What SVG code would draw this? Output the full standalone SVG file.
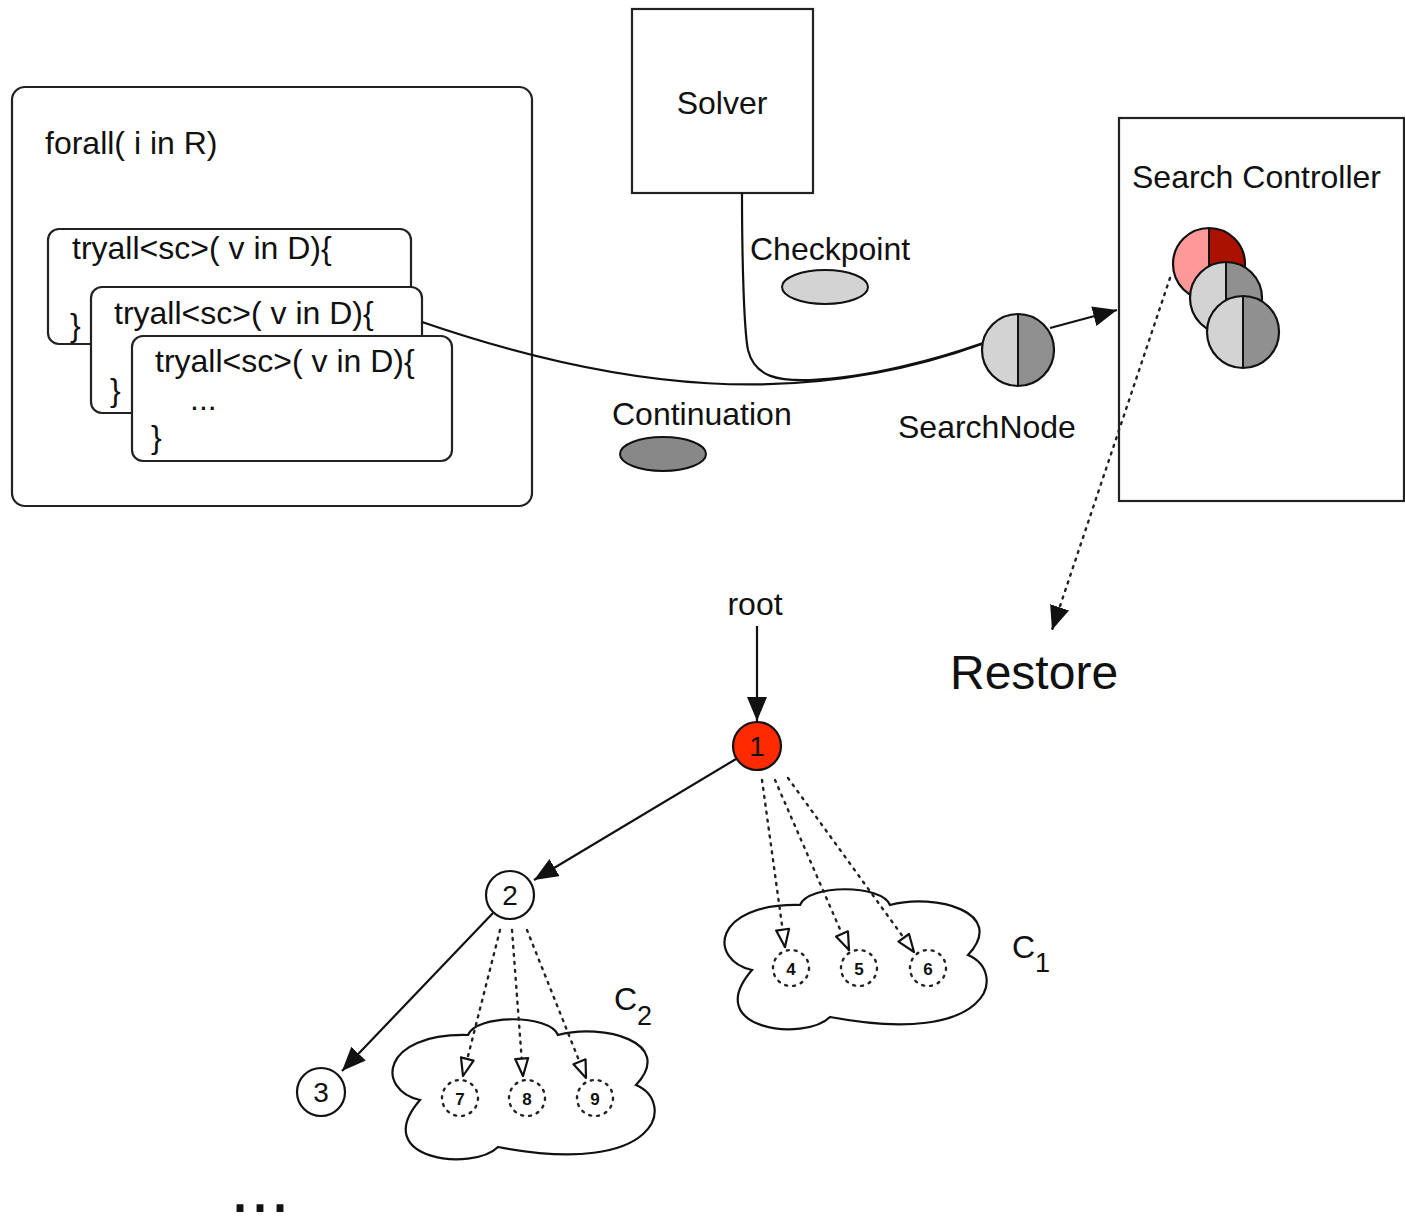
<svg xmlns="http://www.w3.org/2000/svg" width="1405" height="1225" viewBox="0 0 1405 1225">
<style>
  text { font-family: "Liberation Sans", Arial, sans-serif; fill: #111; }
  .lbl { font-size: 32px; }
  .box { fill: #fff; stroke: #222; stroke-width: 2.2; }
  .edge { fill: none; stroke: #111; stroke-width: 2.2; }
  .dot { fill: none; stroke: #222; stroke-width: 2.4; stroke-dasharray: 2 6; stroke-linecap: round; }
  .num { font-size: 28px; text-anchor: middle; }
  .snum { font-size: 17px; font-weight: bold; text-anchor: middle; }
  .light { fill: #d3d3d3; }
  .dark { fill: #909090; }
  .ring { fill: none; stroke: #111; stroke-width: 2.2; }
</style>
<defs>
  <marker id="arr" markerUnits="userSpaceOnUse" viewBox="0 0 24 20" refX="24" refY="10" markerWidth="24" markerHeight="20" orient="auto">
    <path d="M0,0 L24,10 L0,20 Z" fill="#111"/>
  </marker>
  <marker id="open" markerUnits="userSpaceOnUse" viewBox="0 0 20 16" refX="19" refY="8" markerWidth="20" markerHeight="16" orient="auto">
    <path d="M1.5,1.5 L19,8 L1.5,14.5 Z" fill="#fff" stroke="#111" stroke-width="2.2" stroke-linejoin="round"/>
  </marker>
  <path id="cloud" d="M752,970 C708,960 712,903 800,905 C808,884 882,884 890,905 C935,893 1008,912 968,955 C1008,972 993,1048 830,1017 C805,1042 700,1030 752,970 Z" fill="#fff" stroke="#111" stroke-width="2.2"/>
</defs>

<g id="forall">
  <rect class="box" x="12" y="87" width="520" height="419" rx="13"/>
  <text class="lbl" x="45" y="154">forall( i in R)</text>
</g>
<g id="tryall1">
  <rect class="box" x="48" y="229" width="363" height="115" rx="11"/>
  <text class="lbl" x="72" y="259">tryall&lt;sc&gt;( v in D){</text>
  <text class="lbl" x="70" y="336">}</text>
</g>
<g id="tryall2">
  <rect class="box" x="91" y="287" width="331" height="126" rx="11"/>
  <text class="lbl" x="114" y="324">tryall&lt;sc&gt;( v in D){</text>
  <text class="lbl" x="110" y="401">}</text>
</g>
<g id="tryall3">
  <rect class="box" x="132" y="336" width="320" height="125" rx="11"/>
  <text class="lbl" x="155" y="372">tryall&lt;sc&gt;( v in D){</text>
  <text class="lbl" x="190" y="410">...</text>
  <text class="lbl" x="151" y="448">}</text>
</g>

<g id="solver">
  <rect class="box" x="632" y="9" width="181" height="184"/>
  <text class="lbl" x="722" y="114" text-anchor="middle">Solver</text>
</g>

<g id="checkpoint">
  <text class="lbl" x="750" y="260">Checkpoint</text>
  <ellipse cx="825" cy="287" rx="43" ry="17" fill="#d3d3d3" stroke="#111" stroke-width="2"/>
</g>
<g id="continuation">
  <text class="lbl" x="612" y="425">Continuation</text>
  <ellipse cx="663" cy="454" rx="43" ry="17" fill="#888" stroke="#111" stroke-width="2"/>
</g>

<g id="search-controller">
  <rect class="box" x="1119" y="118" width="285" height="383"/>
  <text class="lbl" x="1132" y="188">Search Controller</text>
  <g id="sc-node-red">
    <path d="M1209,228 A36,36 0 0 0 1209,300 Z" fill="#ff9999"/>
    <path d="M1209,228 A36,36 0 0 1 1209,300 Z" fill="#aa1100"/>
    <circle class="ring" cx="1209" cy="264" r="36"/>
    <line x1="1209" y1="228" x2="1209" y2="300" stroke="#111" stroke-width="2"/>
  </g>
  <g id="sc-node-2">
    <path d="M1226,262 A36,36 0 0 0 1226,334 Z" class="light"/>
    <path d="M1226,262 A36,36 0 0 1 1226,334 Z" class="dark"/>
    <circle class="ring" cx="1226" cy="298" r="36"/>
    <line x1="1226" y1="262" x2="1226" y2="334" stroke="#111" stroke-width="2"/>
  </g>
  <g id="sc-node-3">
    <path d="M1243,296 A36,36 0 0 0 1243,368 Z" class="light"/>
    <path d="M1243,296 A36,36 0 0 1 1243,368 Z" class="dark"/>
    <circle class="ring" cx="1243" cy="332" r="36"/>
    <line x1="1243" y1="296" x2="1243" y2="368" stroke="#111" stroke-width="2"/>
  </g>
</g>

<g id="cloud-c1">
  <use href="#cloud"/>
  <text x="1012" y="958" font-size="32">C<tspan font-size="27" dy="14">1</tspan></text>
</g>
<g id="cloud-c2">
  <use href="#cloud" transform="translate(-332,130)"/>
  <text x="614" y="1010" font-size="32">C<tspan font-size="27" dy="15">2</tspan></text>
</g>

<g id="node4"><circle class="dot" cx="791" cy="968" r="18"/><text class="snum" x="791" y="975">4</text></g>
<g id="node5"><circle class="dot" cx="859" cy="968" r="18"/><text class="snum" x="859" y="975">5</text></g>
<g id="node6"><circle class="dot" cx="928" cy="968" r="18"/><text class="snum" x="928" y="975">6</text></g>
<g id="node7"><circle class="dot" cx="460" cy="1098" r="18"/><text class="snum" x="460" y="1105">7</text></g>
<g id="node8"><circle class="dot" cx="527" cy="1098" r="18"/><text class="snum" x="527" y="1105">8</text></g>
<g id="node9"><circle class="dot" cx="595" cy="1098" r="18"/><text class="snum" x="595" y="1105">9</text></g>

<g id="connectors">
  <path class="edge" d="M422,322 C620,390 800,410 982,344"/>
  <path class="edge" d="M742,193 C742,260 744,330 748,350 C755,378 780,381 810,380 C870,378 940,358 983,343"/>
  <line class="edge" x1="1050" y1="328" x2="1117" y2="310" stroke-width="3" marker-end="url(#arr)"/>
  <line class="dot" x1="1170" y1="278" x2="1052" y2="630" marker-end="url(#arr)"/>
  <line class="edge" x1="757" y1="626" x2="757" y2="721" marker-end="url(#arr)"/>
  <line class="edge" x1="736" y1="759" x2="534" y2="880" marker-end="url(#arr)"/>
  <line class="edge" x1="493" y1="913" x2="342" y2="1071" marker-end="url(#arr)"/>
  <line class="dot" x1="762" y1="780" x2="785" y2="947" marker-end="url(#open)"/>
  <line class="dot" x1="775" y1="780" x2="849" y2="950" marker-end="url(#open)"/>
  <line class="dot" x1="788" y1="778" x2="914" y2="952" marker-end="url(#open)"/>
  <line class="dot" x1="500" y1="930" x2="463" y2="1076" marker-end="url(#open)"/>
  <line class="dot" x1="512" y1="930" x2="523" y2="1076" marker-end="url(#open)"/>
  <line class="dot" x1="527" y1="930" x2="586" y2="1078" marker-end="url(#open)"/>
</g>

<g id="searchnode">
  <path d="M1018,314 A36,36 0 0 0 1018,386 Z" class="light"/>
  <path d="M1018,314 A36,36 0 0 1 1018,386 Z" class="dark"/>
  <circle class="ring" cx="1018" cy="350" r="36"/>
  <line x1="1018" y1="314" x2="1018" y2="386" stroke="#111" stroke-width="2"/>
  <text class="lbl" x="898" y="438">SearchNode</text>
</g>

<g id="restore">
  <text x="950" y="689" font-size="48">Restore</text>
</g>

<g id="root-label">
  <text class="lbl" x="755" y="615" text-anchor="middle">root</text>
</g>

<g id="node1">
  <circle cx="757" cy="746" r="24" fill="#ff2a00" stroke="#111" stroke-width="2.2"/>
  <text class="num" x="757" y="756">1</text>
</g>
<g id="node2">
  <circle cx="510" cy="895" r="24" fill="#fff" stroke="#111" stroke-width="2.2"/>
  <text class="num" x="510" y="905">2</text>
</g>
<g id="node3">
  <circle cx="321" cy="1092" r="24" fill="#fff" stroke="#111" stroke-width="2.2"/>
  <text class="num" x="321" y="1102">3</text>
</g>

<g id="ellipsis">
  <text x="230" y="1212" font-size="72">...</text>
</g>
</svg>
